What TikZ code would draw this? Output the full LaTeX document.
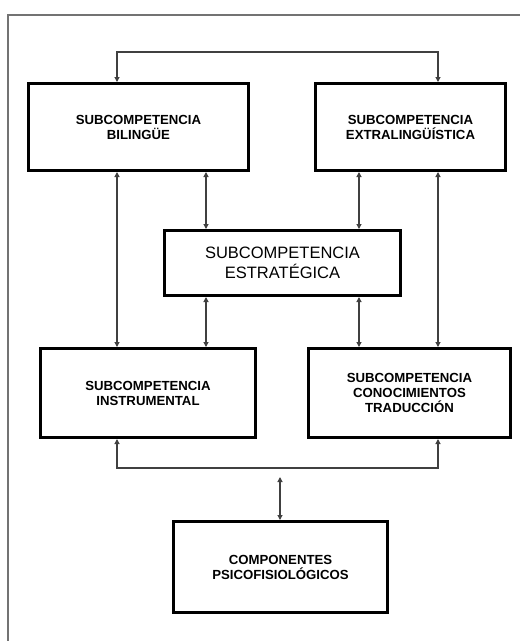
\documentclass[tikz,border=0pt]{standalone}
\usepackage{fontspec}
\setmainfont{Liberation Sans}
\usetikzlibrary{arrows.meta}
\begin{document}
\begin{tikzpicture}[x=1pt,y=-1pt,
    box/.style={draw=black,line width=3pt,align=center,inner sep=0pt,
      font=\bfseries\fontsize{13.2}{15}\selectfont},
    link/.style={draw=black!75,line width=1.1pt,
      {Triangle[length=5pt,width=5pt]}-{Triangle[length=5pt,width=5pt]}}]
  \useasboundingbox (0,0) rectangle (520,641);
  \draw[black!55,line width=1.5pt] (522,15) -- (8,15) -- (8,645);
  \draw
    (138.5,127) node[box,minimum width=220,minimum height=87] (bil){SUBCOMPETENCIA\\BILINGÜE}
    (410.5,127) node[box,minimum width=190,minimum height=87] (ext){SUBCOMPETENCIA\\EXTRALINGÜÍSTICA}
    (282.5,263) node[box,minimum width=236,minimum height=65,
      font=\fontsize{16.5}{20.5}\selectfont] (est){SUBCOMPETENCIA\\ESTRATÉGICA}
    (148,393) node[box,minimum width=215,minimum height=89] (ins){SUBCOMPETENCIA\\INSTRUMENTAL}
    (409.5,393) node[box,minimum width=202,minimum height=89] (con){SUBCOMPETENCIA\\CONOCIMIENTOS\\TRADUCCIÓN}
    (280.5,567) node[box,minimum width=214,minimum height=91] (psi){COMPONENTES\\PSICOFISIOLÓGICOS};
  \coordinate (xa) at (117,0);
  \coordinate (xb) at (206,0);
  \coordinate (xc) at (359,0);
  \coordinate (xd) at (438,0);
  \coordinate (top) at (280,52);
  \coordinate (bot) at (280,468);
  \coordinate (mid) at (280,477);
  \begin{scope}[link]
    \draw (bil.north -| xa) |- (top) -| (ext.north -| xd);
    \draw (bil.south -| xa) to (ins.north -| xa);
    \draw (bil.south -| xb) to (est.north -| xb);
    \draw (est.south -| xb) to (ins.north -| xb);
    \draw (ext.south -| xc) to (est.north -| xc);
    \draw (est.south -| xc) to (con.north -| xc);
    \draw (ext.south -| xd) to (con.north -| xd);
    \draw (ins.south -| xa) |- (bot) -| (con.south -| xd);
    \draw (mid) to (psi.north -| mid);
  \end{scope}
\end{tikzpicture}
\end{document}
